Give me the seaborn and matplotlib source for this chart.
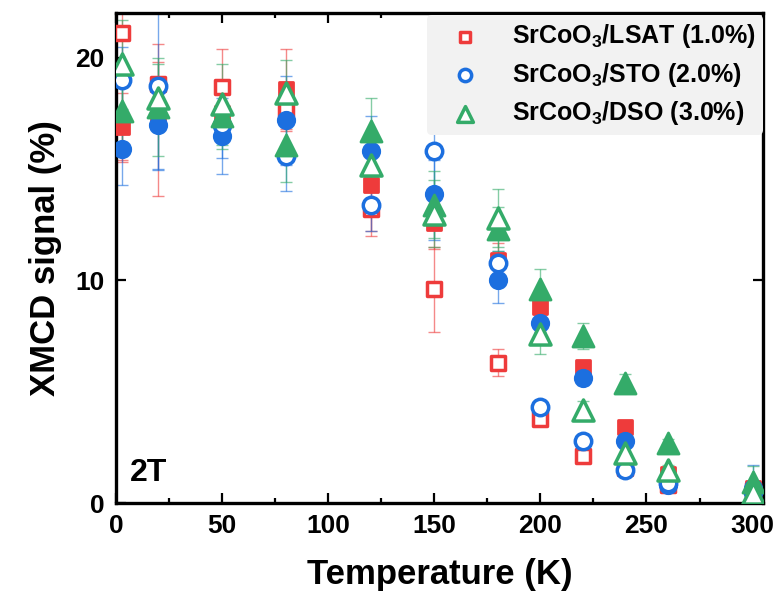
import numpy as np
import pandas as pd
import matplotlib
matplotlib.use('Agg')
import matplotlib.pyplot as plt
import seaborn as sns

# temperaturas (K)
temps = [3, 20, 50, 80, 120, 150, 180, 200, 220, 240, 260, 300]

# SrCoO3/LSAT
lsat_open = [21.1, 18.8, 18.7, 17.7, 13.2, 9.6, 6.3, 3.8, 2.1, 1.6, 0.8, 0.6]
lsat_open_err = [5.8, 1.0, 1.7, 1.0, 1.0, 1.9, 0.6, 0.3, 0.2, 0.3, 0.2, 0.2]
lsat_fill = [16.9, 17.2, 17.5, 18.6, 14.3, 12.6, 10.9, 8.8, 6.1, 3.4, 1.3, 0.7]
lsat_fill_err = [1.5, 3.4, 1.0, 1.8, 2.3, 1.2, 0.8, 0.4, 0.3, 0.3, 0.2, 0.2]

# SrCoO3/STO
sto_open = [19.0, 18.75, 17.0, 15.6, 13.4, 15.8, 10.8, 4.3, 2.8, 1.5, 0.9, 0.5]
sto_open_err = [1.5, 3.8, 1.5, 1.6, 1.2, 4.0, 0.5, 0.3, 0.2, 0.2, 0.2, 0.2]
sto_fill = [15.9, 17.0, 16.5, 17.2, 15.8, 13.9, 10.0, 8.1, 5.6, 2.8, 0.8, 0.7]
sto_fill_err = [1.6, 2.0, 1.7, 2.0, 1.6, 1.5, 1.0, 0.4, 0.3, 0.3, 0.2, 1.0]

# SrCoO3/DSO
dso_open = [19.7, 18.2, 17.9, 18.4, 15.2, 13.0, 12.8, 7.6, 4.2, 2.25, 1.5, 0.45]
dso_open_err = [2.0, 1.5, 1.8, 1.5, 1.2, 1.5, 1.3, 0.9, 0.4, 0.3, 0.2, 0.2]
dso_fill = [17.6, 17.8, 17.4, 16.1, 16.7, 13.4, 12.3, 9.6, 7.5, 5.4, 2.7, 0.95]
dso_fill_err = [1.5, 2.2, 1.5, 1.7, 1.5, 1.5, 1.0, 0.9, 0.6, 0.4, 0.2, 0.7]

labels = ['SrCoO$_3$/LSAT (1.0%)', 'SrCoO$_3$/STO (2.0%)', 'SrCoO$_3$/DSO (3.0%)']
colores = ['#EE3B3B', '#1C6FDF', '#34AB69']
marcadores = ['s', 'o', '^']
tamanos = [110, 140, 230]

sns.set_theme(style='ticks')
plt.rcParams['font.family'] = ['Liberation Sans', 'DejaVu Sans']
plt.rcParams['font.weight'] = 'bold'
plt.rcParams['mathtext.fontset'] = 'custom'
plt.rcParams['mathtext.rm'] = 'Liberation Sans:bold'
plt.rcParams['mathtext.bf'] = 'Liberation Sans:bold'
plt.rcParams['mathtext.default'] = 'bf'
plt.rcParams['text.color'] = 'black'
plt.rcParams['axes.labelcolor'] = 'black'
plt.rcParams['xtick.color'] = 'black'
plt.rcParams['ytick.color'] = 'black'

fig = plt.figure(figsize=(7.78, 5.99), dpi=100)
ax = fig.add_axes([0.149, 0.160, 0.832, 0.818])

series = [
    (lsat_open, lsat_open_err, lsat_fill, lsat_fill_err),
    (sto_open, sto_open_err, sto_fill, sto_fill_err),
    (dso_open, dso_open_err, dso_fill, dso_fill_err),
]

for i, (yo, eo, yf, ef) in enumerate(series):
    col = colores[i]
    ax.errorbar(temps, yf, yerr=ef, fmt='none', ecolor=col, alpha=0.6,
                elinewidth=1.0, capsize=4, capthick=1.0, zorder=2)
    ax.errorbar(temps, yo, yerr=eo, fmt='none', ecolor=col, alpha=0.6,
                elinewidth=1.0, capsize=4, capthick=1.0, zorder=2)
    df_f = pd.DataFrame({'T': temps, 'v': yf})
    df_o = pd.DataFrame({'T': temps, 'v': yo})
    sns.scatterplot(data=df_f, x='T', y='v', ax=ax, marker=marcadores[i],
                    s=tamanos[i], facecolor=col, edgecolor=col,
                    linewidth=2, zorder=3 + i)
    sns.scatterplot(data=df_o, x='T', y='v', ax=ax, marker=marcadores[i],
                    s=tamanos[i], facecolor='white', edgecolor=col,
                    linewidth=2.5, zorder=3 + i, label=labels[i])

ax.set_xlim(0, 305)
ax.set_ylim(0, 22)
ax.set_xticks([0, 50, 100, 150, 200, 250, 300])
ax.set_xticks([25, 75, 125, 175, 225, 275], minor=True)
ax.set_yticks([0, 10, 20])
ax.tick_params(which='both', direction='in', top=True, right=True,
               labelsize=19, width=1.6, pad=8, colors='black')
ax.tick_params(which='major', length=7)
ax.tick_params(which='minor', length=3.5)
for lab in ax.get_xticklabels() + ax.get_yticklabels():
    lab.set_fontweight('bold')
for sp in ax.spines.values():
    sp.set_linewidth(2.4)
    sp.set_color('black')

ax.set_xlabel('Temperature (K)', fontsize=25, fontweight='bold', labelpad=14)
ax.set_ylabel('XMCD signal (%)', fontsize=25, fontweight='bold', labelpad=10)
ax.text(0.022, 0.045, '2T', transform=ax.transAxes, fontsize=23,
        fontweight='bold', color='black')

leg = ax.legend(loc='upper right', bbox_to_anchor=(1.0, 0.997), frameon=True,
                fontsize=18, handletextpad=0.7, labelspacing=0.42,
                borderaxespad=0.0, borderpad=0.3, markerscale=0.75,
                handlelength=2.4)
leg.get_frame().set_facecolor('#f2f2f2')
leg.get_frame().set_edgecolor('none')
leg.get_frame().set_alpha(1)
for t in leg.get_texts():
    t.set_fontweight('bold')
    t.set_color('black')

fig.savefig('out.png', dpi=100)
